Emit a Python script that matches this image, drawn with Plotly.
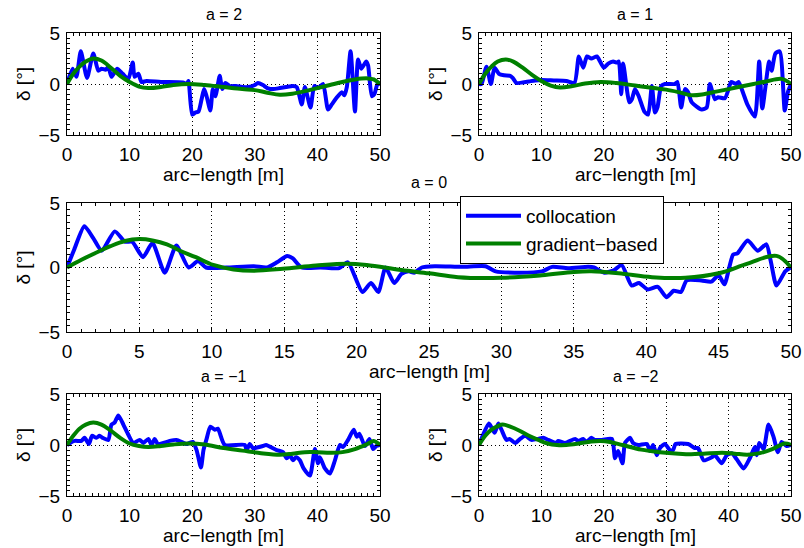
import plotly.graph_objects as go

# ---------------- data ----------------
# a = 2
x_col_a2 = [0, 0.9, 1.5, 2.2, 3.2, 4.2, 5.0, 5.5, 6.2, 6.6, 7.1, 8.0, 8.9, 9.8, 10.5, 10.8, 11.4, 11.9, 12.7, 15.0,
            18.5, 19.1, 19.4, 20.0, 20.5, 21.0, 21.5, 21.9, 22.3, 22.9, 23.3, 23.7, 24.4, 24.8, 25.3, 26.0, 27.0, 28.0,
            29.0, 30.0, 30.5, 31.3, 32.0, 33.0, 34.0, 35.0, 36.1, 36.7, 37.5, 38.0, 38.9, 39.5, 40.1, 40.9, 41.7,
            42.3, 43.0, 43.9, 44.3, 44.7, 45.3, 46.0, 46.5, 47.0, 47.8, 48.1, 48.7, 49.1, 49.6, 50.0]
y_col_a2 = [0, 1.5, 0.7, 3.2, 0.6, 3.0, 1.3, 1.5, 1.4, 1.7, 0.7, 1.5, 1.0, 0.5, 2.1, 0.7, 1.0, 0.2, 0.3, 0.2,
            0.15, 0.0, 0.3, -3.0, -2.8, -2.7, -1.5, -0.5, -1.2, -2.6, -0.5, -1.2, 0.8, -0.5, 0.1, -0.2, -0.2, -0.3,
            -0.3, -0.1, 0.1, -0.1, -0.4, -0.5, -0.4, -0.3, -0.2, -0.3, -2.0, -0.3, -2.3, -0.2, -0.4, 0.0, -2.5,
            -2.0, -1.4, -0.8, -1.1, -0.3, 3.2, -2.7, 2.4, 1.5, 2.2, 1.8, -1.2, -1.0, 0.0, 0]
x_grad_a2 = [0, 1, 2, 3, 4.2, 5.5, 7, 8.5, 10, 11.5, 13, 15, 17, 19.5, 22, 25, 28, 30, 32, 34, 36, 38, 40, 42, 44,
             46, 48, 49, 50]
y_grad_a2 = [0, 1.0, 1.7, 2.2, 2.5, 2.3, 1.6, 0.8, 0.2, -0.25, -0.4, -0.3, -0.1, 0.0, -0.1, -0.3, -0.5, -0.6, -0.85,
             -1.05, -0.95, -0.7, -0.4, -0.1, 0.2, 0.45, 0.55, 0.45, 0]

# a = 1
x_col_a1 = [0, 0.4, 1.2, 1.9, 2.5, 3.2, 4.0, 5.0, 5.4, 6.0, 7.0, 8.0, 9.0, 10.0, 12.0, 14.0, 15.3, 16.0, 16.7, 17.3,
            18.0, 18.9, 19.4, 20.0, 20.7, 21.5, 22.1, 22.4, 22.8, 23.1, 24.1, 24.5, 25.0, 25.6, 26.5, 27.1, 27.7,
            28.2, 28.6, 29.2, 29.8, 31.4, 31.8, 32.4, 33.0, 33.5, 34.1, 35.7, 36.5, 37.0, 37.8, 38.3, 39.4, 40.0,
            40.4, 41.2, 41.6, 42.4, 43.0, 44.2, 44.9, 45.4, 46.5, 46.9, 47.5, 48.2, 49.0, 49.5, 50]
y_col_a1 = [0, 0, 1.7, 0, 1.6, 1.0, 0.85, 0.8, 0.6, 0.1, 0.15, 0.25, 0.35, 0.4, 0.35, 0.3, 0.1, 2.7, 1.6, 2.7,
            2.5, 2.7, 2.2, 1.6, 2.0, 2.2, 2.1, 2.2, -1.0, 2.0, -1.8, -1.5, -0.5, -1.2, -2.7, -3.0, -0.2,
            -2.8, -2.3, -0.2, 0.0, 0.0, 0.2, -2.3, -0.5, -0.8, -1.8, -2.5, -2.3, 0.0, -1.5, -1.3, -1.4, -0.5,
            0.2, 0.0, 0.2, -1.0, -2.0, -3.2, 2.2, -2.4, 2.2, 1.3, 3.0, 3.2, -2.6, -0.8, 0]
x_grad_a1 = [0, 1, 2, 3, 4.3, 5.5, 7, 8.5, 10, 11.5, 13, 15, 17, 19.5, 22, 25, 28, 30, 32, 34, 36, 38, 40, 42, 44,
             46, 48.5, 50]
y_grad_a1 = [0, 1.0, 1.7, 2.2, 2.4, 2.2, 1.6, 0.9, 0.3, -0.15, -0.35, -0.2, 0.05, 0.2, 0.1, -0.15, -0.4, -0.55,
             -0.8, -1.1, -1.0, -0.75, -0.5, -0.25, 0.0, 0.25, 0.5, 0]

# a = 0
x_col_a0 = [0, 0.5, 1.2, 1.8, 2.4, 3.3, 4.0, 4.5, 5.25, 5.9, 6.75, 7.55, 8.4, 9.05, 9.6, 11, 12.9, 13.8, 14.5, 15.2,
            15.6, 16.2, 17.5, 18.8, 19.4, 20.4, 21.0, 21.5, 22.0, 22.6, 23.1, 23.6, 24.0, 24.5, 25.4, 27.3, 28.9,
            29.6, 30.9, 32.8, 33.5, 34.6, 36.0, 36.4, 37.1, 37.8, 38.3, 39.0, 39.5, 40.1, 40.8, 41.4, 41.9, 42.4,
            42.8, 43.8, 44.5, 45.0, 45.4, 46.0, 46.3, 47.0, 47.7, 48.3, 48.6, 49.0, 49.6, 50]
y_col_a0 = [0, 1.4, 3.2, 2.3, 1.3, 2.8, 2.0, 2.0, 0.8, 1.9, -0.4, 1.7, 0.0, 0.5, 0.0, 0.0, 0.1, 0.0, 0.4, 0.9,
            0.7, 0.0, 0.0, -0.05, 0.4, -1.9, -1.2, -1.9, 0.0, -1.2, -0.5, -0.3, -0.4, 0.0, 0.1, 0.05, 0.1,
            -0.3, -0.4, -0.3, 0.05, -0.05, 0.05, 0.0, -0.4, -0.2, 0.2, -1.4, -1.2, -1.7, -1.5, -2.3, -1.8, -1.9,
            -1.0, -1.0, -1.1, -0.6, -1.3, 1.0, 1.1, 2.1, 1.3, 1.8, 0.5, -1.4, -0.3, 0]
x_grad_a0 = [0, 1, 2.3, 3, 4, 5, 5.9, 6.9, 7.8, 8.9, 10.1, 11.5, 12.9, 14.9, 17.2, 19.3, 20.7, 23.1, 25, 27, 30,
             32.8, 35, 36.2, 38.1, 40.4, 42.7, 45, 47, 49, 50]
y_grad_a0 = [0, 0.6, 1.3, 1.65, 2.05, 2.2, 2.1, 1.8, 1.3, 0.8, 0.2, -0.15, -0.25, -0.1, 0.15, 0.3, 0.2, -0.2, -0.45,
             -0.75, -0.8, -0.6, -0.35, -0.3, -0.45, -0.75, -0.8, -0.45, 0.3, 0.9, 0]

# a = -1
x_col_am1 = [0, 1.2, 2.3, 2.8, 3.5, 4.0, 4.7, 5.2, 5.7, 6.6, 7.1, 7.6, 8.2, 9.0, 9.8, 10.6, 11.6, 12.2, 13.0, 13.5,
             14.0, 14.5, 15.4, 16.4, 17.5, 19.1, 20.1, 20.7, 21.4, 21.8, 22.3, 22.9, 23.6, 24.1, 25.2, 28.4, 28.7,
             29.2, 29.7, 31.3, 31.8, 33.5, 34.5, 35.1, 35.6, 36.1, 36.6, 37.2, 37.8, 38.8, 39.6, 40.1, 40.4, 41.2,
             42.0, 42.8, 43.6, 44.1, 44.9, 45.8, 46.3, 46.7, 47.6, 48.3, 48.9, 49.4, 50]
y_col_am1 = [0, 0.4, 0.4, 0.7, 0.1, 0.9, 0.7, 0.9, 0.7, 0.5, 2.0, 2.2, 2.9, 2.0, 1.0, 0.2, 0.5, 0.2, 0.6, 0.0,
             0.6, 0.1, 0.2, 0.4, 0.5, 0.1, 0.3, -0.5, -2.2, -0.5, 0.6, 1.8, 1.5, 1.6, 0.0, 0.0, -0.5,
             0.1, -0.3, -0.1, 0.0, -0.5, -0.7, -1.3, -1.0, -1.5, -1.2, -1.5, -2.3, -3.0, -0.4, -1.8, -1.2, -2.3,
             -2.8, -1.5, 0.0, -0.2, 0.5, 1.5, 0.8, 1.1, -0.1, 0.6, -0.4, -0.1, 0]
x_grad_am1 = [0, 1, 2, 3, 4.2, 5.5, 7, 8.5, 10, 11.5, 13, 15, 17, 19.5, 22, 25, 28, 31, 34, 36, 38, 40, 42, 44,
              46, 48, 49, 50]
y_grad_am1 = [0, 0.9, 1.6, 2.0, 2.2, 2.0, 1.4, 0.7, 0.15, -0.1, -0.2, -0.1, 0.05, 0.15, 0.05, -0.3, -0.55, -0.8,
              -0.95, -0.85, -0.7, -0.7, -0.75, -0.7, -0.4, 0.1, 0.4, 0]

# a = -2
x_col_am2 = [0, 1.6, 2.5, 3.1, 3.6, 4.4, 4.9, 5.8, 6.6, 7.4, 8.4, 9.5, 10.3, 11.1, 12.4, 12.7, 13.8, 15.4, 15.9,
             16.7, 17.2, 18.0, 18.5, 19.7, 21.3, 21.8, 22.3, 23.0, 23.4, 24.2, 24.7, 25.5, 26.9, 27.4, 27.9, 28.5,
             29.0, 29.8, 30.6, 31.1, 31.5, 33.5, 34.6, 35.1, 36.0, 37.3, 37.8, 38.9, 39.7, 40.5, 41.3, 42.4, 43.4,
             44.2, 44.5, 44.9, 45.6, 46.4, 47.2, 47.9, 48.5, 49.3, 50]
y_col_am2 = [0, 2.1, 1.2, 2.1, 1.5, 0.5, 0.6, 0.2, 0.6, 0.9, 0.5, 0.6, 0.7, 0.5, 0.2, 0.4, 0.2, 0.6, 0.4,
             0.6, 0.3, 0.7, 0.5, 0.5, 0.6, -1.3, -0.6, -1.8, 0.2, 0.7, 0.2, 0.0, 0.1, -0.6, 0.0, -1.0,
             -0.3, 0.1, -0.5, -0.5, 0.1, 0.1, -0.3, -0.3, -1.5, -1.2, -1.0, -1.8, -1.0, -0.8, -1.4, -2.3, -1.3,
             -0.2, -1.0, 0.2, -0.4, 2.0, 0.8, -0.7, 0.3, -0.1, 0]
x_grad_am2 = [0, 1, 2, 3, 3.8, 5, 6.5, 8, 9.5, 11, 12.5, 14, 16, 18, 19.5, 21, 23, 26, 29, 32, 34, 36, 39, 41, 43,
              45, 47, 49, 50]
y_grad_am2 = [0, 0.9, 1.5, 1.85, 2.0, 1.8, 1.4, 0.9, 0.5, 0.15, 0.0, 0.0, 0.15, 0.35, 0.4, 0.3, 0.0, -0.45, -0.7,
              -0.85, -0.9, -0.85, -0.75, -0.85, -0.95, -0.8, -0.4, 0.15, 0]

panel_titles = ["a = 2", "a = 1", "a = 0", "a = \u22121", "a = \u22122"]
series_names = ["collocation", "gradient\u2212based"]
x_ticks_narrow = [0, 10, 20, 30, 40, 50]
x_ticks_wide = [0, 5, 10, 15, 20, 25, 30, 35, 40, 45, 50]
y_ticks = [-5, 0, 5]
x_label = "arc\u2212length [m]"
y_label = "\u03b4 [\u00b0]"

# ---------------- layout helpers ----------------
W, H = 804, 548
FONT = "Liberation Sans, Arial, Helvetica, sans-serif"
BLUE = "rgb(0,0,255)"
GREEN = "rgb(0,128,0)"


def fx(p):
    return p / W


def fy(p):
    return 1 - p / H


# panel pixel boxes: (left, right, top, bottom)
boxes = [
    (67, 380, 33, 135),
    (479, 791, 33, 135),
    (67, 791, 203, 332),
    (67, 380, 394, 496),
    (479, 791, 394, 496),
]
panels = [
    (x_col_a2, y_col_a2, x_grad_a2, y_grad_a2, x_ticks_narrow),
    (x_col_a1, y_col_a1, x_grad_a1, y_grad_a1, x_ticks_narrow),
    (x_col_a0, y_col_a0, x_grad_a0, y_grad_a0, x_ticks_wide),
    (x_col_am1, y_col_am1, x_grad_am1, y_grad_am1, x_ticks_narrow),
    (x_col_am2, y_col_am2, x_grad_am2, y_grad_am2, x_ticks_narrow),
]

fig = go.Figure()
annotations = []
layout_axes = {}

for i, ((l, r, t, b), (xc, yc, xg, yg, xt)) in enumerate(zip(boxes, panels)):
    n = i + 1
    xa = "x" if n == 1 else f"x{n}"
    ya = "y" if n == 1 else f"y{n}"
    legend_here = (n == 3)
    fig.add_trace(go.Scatter(x=xc, y=yc, xaxis=xa, yaxis=ya, mode="lines",
                             line=dict(color=BLUE, width=4, shape="spline", smoothing=0.6),
                             name=series_names[0], showlegend=legend_here))
    fig.add_trace(go.Scatter(x=xg, y=yg, xaxis=xa, yaxis=ya, mode="lines",
                             line=dict(color=GREEN, width=4, shape="spline", smoothing=1.0),
                             name=series_names[1], showlegend=legend_here))

    common = dict(showline=True, linecolor="black", linewidth=1, mirror="allticks",
                  ticks="inside", ticklen=5, tickcolor="black", tickwidth=1,
                  showgrid=True, gridcolor="black", griddash="1px,3px", gridwidth=1,
                  zeroline=False, tickfont=dict(family=FONT, size=19, color="black"),
                  fixedrange=True, automargin=False)
    layout_axes["xaxis" if n == 1 else f"xaxis{n}"] = dict(
        common, domain=[fx(l), fx(r)], range=[0, 50], tickvals=xt,
        anchor=ya, ticklabelstandoff=2,
        minor=dict(ticks="inside", ticklen=3, dtick=1, tickcolor="black", showgrid=False))
    layout_axes["yaxis" if n == 1 else f"yaxis{n}"] = dict(
        common, domain=[fy(b), fy(t)], range=[-5, 5], tickvals=y_ticks,
        anchor=xa, ticklabelstandoff=2,
        minor=dict(ticks="inside", ticklen=3, dtick=0.5, tickcolor="black", showgrid=False))

    cx = (l + r) / 2
    cy = (t + b) / 2
    annotations.append(dict(text=panel_titles[i], x=fx(cx), y=fy(t - (20 if n == 3 else 18)),
                            xref="paper", yref="paper", xanchor="center", yanchor="middle",
                            showarrow=False, font=dict(family=FONT, size=16, color="black")))
    annotations.append(dict(text=x_label, x=fx(cx), y=fy(b + 39),
                            xref="paper", yref="paper", xanchor="center", yanchor="middle",
                            showarrow=False, font=dict(family=FONT, size=19, color="black")))
    annotations.append(dict(text=y_label, x=fx(l - 44), y=fy(cy), textangle=-90,
                            xref="paper", yref="paper", xanchor="center", yanchor="middle",
                            showarrow=False, font=dict(family=FONT, size=19, color="black")))

fig.update_layout(
    width=W, height=H,
    margin=dict(l=0, r=0, t=0, b=0, autoexpand=False),
    paper_bgcolor="white", plot_bgcolor="white",
    annotations=annotations,
    legend=dict(x=fx(460), y=fy(196), xanchor="left", yanchor="top",
                bgcolor="white", bordercolor="black", borderwidth=1,
                font=dict(family=FONT, size=19, color="black"),
                tracegroupgap=0, itemwidth=55),
    **layout_axes,
)

fig.write_html("out.html",
               config={"displayModeBar": False, "staticPlot": False},
               post_script="document.body.style.margin='0';document.body.style.overflow='hidden';")
